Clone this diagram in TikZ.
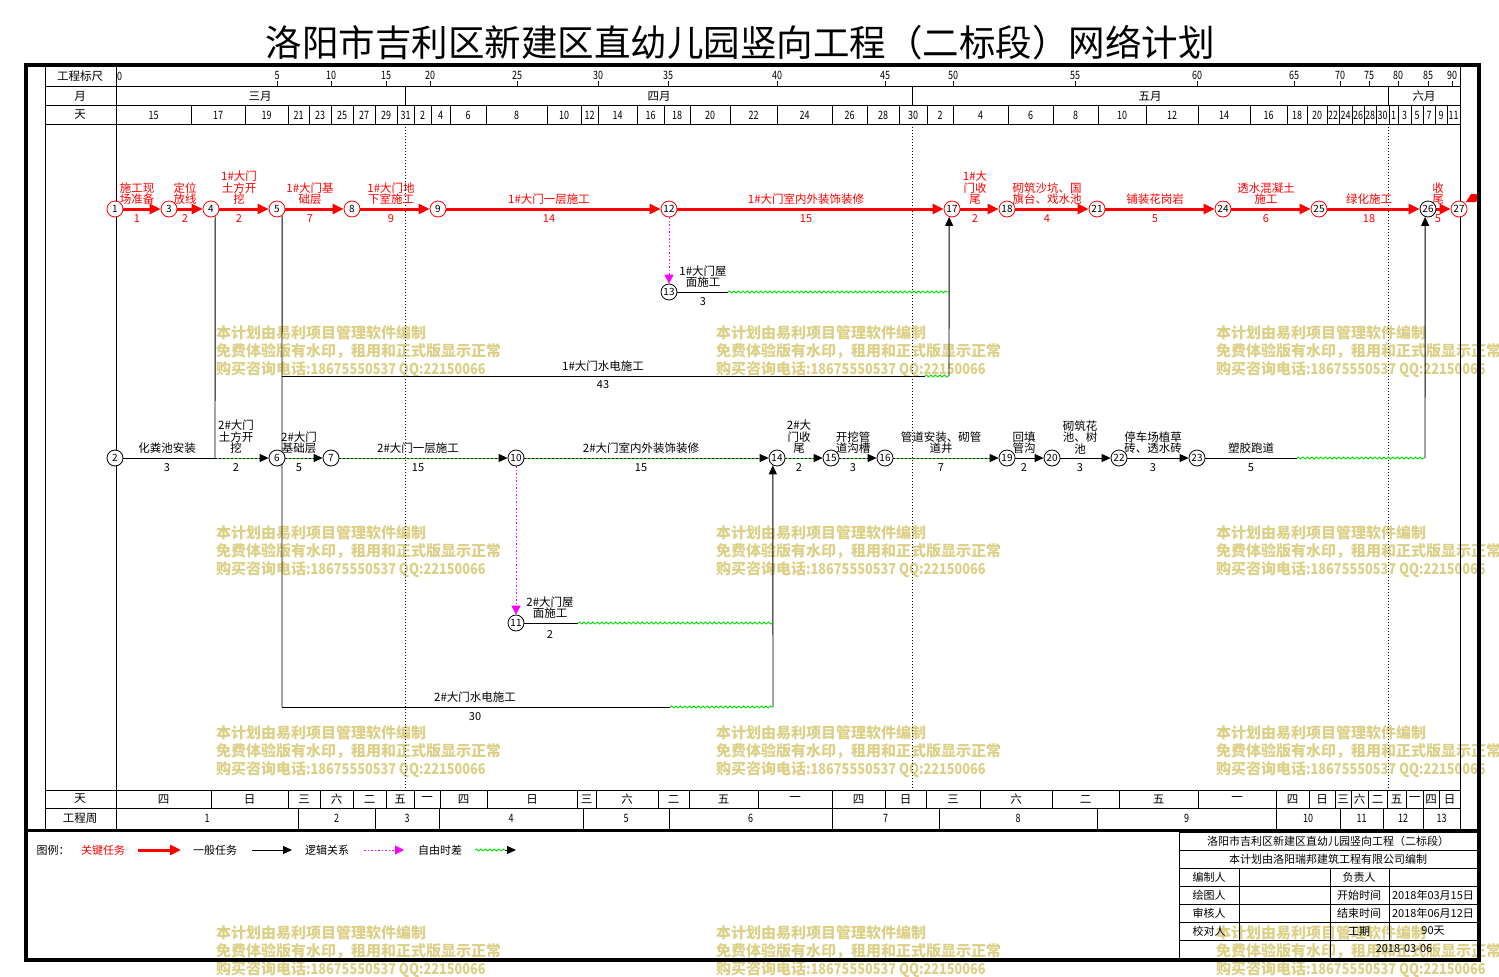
\documentclass[tikz,border=0pt]{standalone}
\usepackage{fontspec}
\setmainfont{Noto Sans CJK SC}
\usepackage{graphicx}
\usetikzlibrary{arrows.meta,decorations.pathmorphing}
\pgfdeclarelayer{wmlayer}
\pgfdeclarelayer{bglayer}
\pgfsetlayers{wmlayer,bglayer,main}
\definecolor{critc}{RGB}{255,0,0}
\definecolor{wmc}{RGB}{220,208,135}
\definecolor{slackc}{RGB}{0,225,0}
\definecolor{logc}{RGB}{255,0,255}
\newcommand\cnd[1]{\scalebox{0.78}[1]{#1}}
\newcommand\wnum[1]{\scalebox{0.85}[1]{#1}}
\tikzset{
  ev/.style={circle,draw=black,fill=white,minimum size=16pt,inner sep=0pt,line width=0.8pt,font=\fontsize{10}{10}\selectfont},
  evc/.style={ev,draw=critc},
  critln/.style={draw=critc,line width=3pt,-{Triangle[length=11pt,width=10pt]}},
  normln/.style={draw=black,line width=0.9pt,-{Triangle[length=9pt,width=8pt]}},
  plainln/.style={draw=black,line width=0.9pt},
  subln/.style={draw=black,line width=1pt,dash pattern=on 2pt off 2pt,-{Triangle[length=9pt,width=8pt]},preaction={draw=slackc,solid,-,line width=1pt,shorten >=6pt}},
  logln/.style={draw=logc,line width=0.9pt,dash pattern=on 1.5pt off 2pt,-{Triangle[length=9pt,width=9pt]}},
  slack/.style={draw=slackc,line width=0.9pt,decorate,decoration={snake,amplitude=1pt,segment length=4.5pt}},
  lab/.style={font=\fontsize{11.5}{11.5}\selectfont,align=center,inner sep=0pt,anchor=south},
  labc/.style={lab,text=critc},
  dur/.style={font=\fontsize{11}{11}\selectfont,inner sep=0pt},
  durc/.style={dur,text=critc},
  hd/.style={font=\fontsize{11.5}{11.5}\selectfont,inner sep=0pt},
  grid/.style={draw=black,line width=0.8pt},
  mdot/.style={draw=black,line width=0.7pt,dash pattern=on 1pt off 2pt},
  wmk/.style={text=wmc,font=\fontsize{15}{18}\selectfont\bfseries,align=left,anchor=west,inner sep=0pt},
  tb/.style={font=\fontsize{11}{11}\selectfont,inner sep=0pt},
}
\begin{document}
\begin{tikzpicture}[x=1pt,y=-1pt]
\useasboundingbox (0,0) rectangle (1499,977);

% ---------- watermark ----------
\begin{pgfonlayer}{wmlayer}
\foreach \wx in {216,716,1216}{
  \foreach \wy in {352,552,752,952}{
    \node[wmk] (wm\wx-\wy) at (\wx,\wy) {本计划由易利项目管理软件编制\\免费体验版有水印，租用和正式版显示正常\\购买咨询电话\wnum{:18675550537 QQ:22150066}};
  }
}
\end{pgfonlayer}

% ---------- title ----------
\node[font=\fontsize{36.5}{36.5}\selectfont,inner sep=0pt] (title) at (740,43) {洛阳市吉利区新建区直幼儿园竖向工程（二标段）网络计划};

% ---------- grid ----------
\begin{pgfonlayer}{bglayer}
\draw[grid] (45,66) -- (45,830);
\draw[grid] (116,66) -- (116,830);
\draw[grid] (1460,66) -- (1460,830);
\foreach \yy in {86,105,124,790,808}{ \draw[grid] (45,\yy) -- (1460,\yy); }
\foreach \xx in {405,912,1388}{
  \draw[grid] (\xx,86) -- (\xx,105);
  \draw[mdot] (\xx,124) -- (\xx,790);
}
\end{pgfonlayer}

\node[hd] (h1) at (80,76) {工程标尺};
\node[hd] (h2) at (80,96) {月};
\node[hd] (h3) at (80,115) {天};
\node[hd] (h4) at (80,799) {天};
\node[hd] (h5) at (80,818) {工程周};

% scale row
\node[hd,anchor=west] (sc0) at (117,76) {\cnd{0}};
\foreach \x/\t in {277/5,331/10,386/15,430/20,517/25,598/30,668/35,777/40,885/45,953/50,1075/55,1197/60,1294/65,1340/70,1369/75,1398/80,1428/85,1452/90}{
  \draw[line width=0.8pt] (\x,81) -- (\x,86);
  \node[hd] (sc\t) at (\x,75) {\cnd{\t}};
}

% month row
\node[hd] (mo3) at (260,96) {三月};
\node[hd] (mo4) at (659,96) {四月};
\node[hd] (mo5) at (1150,96) {五月};
\node[hd] (mo6) at (1424,96) {六月};

% day row
\foreach \a/\b/\t in {116/191/15,191/245/17,245/288/19,288/309/21,309/331/23,331/353/25,353/375/27,375/397/29,397/414/31,414/431/2,431/450/4,450/486/6,486/547/8,547/581/10,581/598/12,598/637/14,637/664/16,664/690/18,690/730/20,730/777/22,777/832/24,832/867/26,867/899/28,899/927/30,927/953/2,953/1008/4,1008/1053/6,1053/1098/8,1098/1146/10,1146/1198/12,1198/1250/14,1250/1287/16,1287/1307/18,1307/1327/20,1327/1339/22,1339/1352/24,1352/1364/26,1364/1376/28,1376/1389/30,1389/1398/1,1398/1411/3,1411/1423/5,1423/1435/7,1435/1447/9,1447/1460/11}{
  \draw[grid] (\b,105) -- (\b,124);
  \node[hd] (dy\a) at ({(\a+\b)/2},115) {\cnd{\t}};
}

% weekday row (bottom)
\foreach \a/\b/\t in {116/211/四,211/288/日,288/320/三,320/353/六,353/386/二,386/414/五,414/440/一,440/487/四,487/577/日,577/596/三,596/658/六,658/689/二,689/758/五,758/832/一,832/885/四,885/926/日,926/980/三,980/1052/六,1052/1119/二,1119/1198/五,1198/1276/一,1276/1309/四,1309/1335/日,1335/1351/三,1351/1368/六,1368/1387/二,1387/1406/五,1406/1423/一,1423/1439/四,1439/1460/日}{
  \draw[grid] (\b,790) -- (\b,808);
  \node[hd] (wd\a) at ({(\a+\b)/2},799) {\t};
}

% week row
\foreach \a/\b/\t in {116/298/1,298/375/2,375/439/3,439/583/4,583/669/5,669/832/6,832/939/7,939/1097/8,1097/1276/9,1276/1340/10,1340/1383/11,1383/1423/12,1423/1460/13}{
  \draw[grid] (\b,808) -- (\b,830);
  \node[hd] (wk\a) at ({(\a+\b)/2},818) {\cnd{\t}};
}

% ---------- events ----------
\node[evc] (n1) at (115,209) {1};
\node[evc] (n3) at (169,209) {3};
\node[evc] (n4) at (211,209) {4};
\node[evc] (n5) at (277,209) {5};
\node[evc] (n8) at (352,209) {8};
\node[evc] (n9) at (438,209) {9};
\node[evc] (n12) at (669,209) {12};
\node[evc] (n17) at (952,209) {17};
\node[evc] (n18) at (1007,209) {18};
\node[evc] (n21) at (1097,209) {21};
\node[evc] (n24) at (1223,209) {24};
\node[evc] (n25) at (1319,209) {25};
\node[ev]  (n26) at (1428,209) {26};
\node[evc] (n27) at (1459,209) {27};
\node[ev] (n13) at (669,292) {13};
\node[ev] (n2) at (115,458) {2};
\node[ev] (n6) at (277,458) {6};
\node[ev] (n7) at (331,458) {7};
\node[ev] (n10) at (516,458) {10};
\node[ev] (n14) at (777,458) {14};
\node[ev] (n15) at (831,458) {15};
\node[ev] (n16) at (885,458) {16};
\node[ev] (n19) at (1007,458) {19};
\node[ev] (n20) at (1052,458) {20};
\node[ev] (n22) at (1119,458) {22};
\node[ev] (n23) at (1197,458) {23};
\node[ev] (n11) at (516,623) {11};

\coordinate (c4d) at (215,458);
\coordinate (c5a) at (282,376);
\coordinate (c5b) at (282,707);
\coordinate (c5c) at (925,376);
\coordinate (c5d) at (949,376);
\coordinate (c5e) at (670,707);
\coordinate (c5f) at (773,707);
\coordinate (c13a) at (728,292);
\coordinate (c13b) at (949,292);
\coordinate (c11a) at (578,623);
\coordinate (c11b) at (773,623);
\coordinate (c23a) at (1297,458);
\coordinate (c23b) at (1425,458);

% ---------- connectors ----------
\begin{pgfonlayer}{bglayer}
\draw[critln] (n1) -- (n3);
\draw[critln] (n3) -- (n4);
\draw[critln] (n4) -- (n5);
\draw[critln] (n5) -- (n8);
\draw[critln] (n8) -- (n9);
\draw[critln] (n9) -- (n12);
\draw[critln] (n12) -- (n17);
\draw[critln] (n17) -- (n18);
\draw[critln] (n18) -- (n21);
\draw[critln] (n21) -- (n24);
\draw[critln] (n24) -- (n25);
\draw[critln] (n25) -- (n26);
\draw[critln] (n26) -- (n27);

\draw[logln] (n12) -- (n13);
\draw[logln] (n10) -- (n11);

\draw[plainln] (n13) -- (c13a);
\draw[slack] (c13a) -- (c13b);

\draw[plainln] (n4.-60) -- (c4d);
\draw[plainln] (n5.-52) -- (c5a) -- (c5b);
\draw[plainln] (c5a) -- (c5c);
\draw[slack] (c5c) -- (c5d);
\draw[normln] (c5d) -- (n17.-110);

\draw[plainln] (c5b) -- (c5e);
\draw[slack] (c5e) -- (c5f);
\draw[normln] (c5f) -- (n14.-120);

\draw[plainln] (n11) -- (c11a);
\draw[slack] (c11a) -- (c11b);

\draw[plainln] (n2) -- (c4d);
\draw[subln] (c4d) -- (n6);
\draw[subln] (n6) -- (n7);
\draw[subln] (n7) -- (n10);
\draw[subln] (n10) -- (n14);
\draw[subln] (n14) -- (n15);
\draw[subln] (n15) -- (n16);
\draw[subln] (n16) -- (n19);
\draw[normln] (n19) -- (n20);
\draw[normln] (n20) -- (n22);
\draw[normln] (n22) -- (n23);
\draw[plainln] (n23) -- (c23a);
\draw[slack] (c23a) -- (c23b);
\draw[normln] (c23b) -- (n26.-110);
\end{pgfonlayer}

\fill[critc] (1466,202) -- (1471,194) -- (1481,194) -- (1476,202) -- cycle;

% ---------- labels row 1 ----------
\node[labc] (L1) at (137,205) {施工现\\场准备};   \node[durc] (D1) at (137,219) {1};
\node[labc] (L3) at (185,205) {定位\\放线};       \node[durc] (D3) at (185,219) {2};
\node[labc] (L4) at (239,205) {1\#大门\\土方开\\挖}; \node[durc] (D4) at (239,219) {2};
\node[labc] (L5) at (310,205) {1\#大门基\\础层};   \node[durc] (D5) at (310,219) {7};
\node[labc] (L8) at (391,205) {1\#大门地\\下室施工}; \node[durc] (D8) at (391,219) {9};
\node[labc] (L9) at (549,205) {1\#大门一层施工};   \node[durc] (D9) at (549,219) {14};
\node[labc] (L12) at (806,205) {1\#大门室内外装饰装修}; \node[durc] (D12) at (806,219) {15};
\node[labc] (L17) at (975,205) {1\#大\\门收\\尾}; \node[durc] (D17) at (975,219) {2};
\node[labc] (L18) at (1047,205) {砌筑沙坑、国\\旗台、戏水池}; \node[durc] (D18) at (1047,219) {4};
\node[labc] (L21) at (1155,205) {铺装花岗岩};      \node[durc] (D21) at (1155,219) {5};
\node[labc] (L24) at (1266,205) {透水混凝土\\施工}; \node[durc] (D24) at (1266,219) {6};
\node[labc] (L25) at (1369,205) {绿化施工};        \node[durc] (D25) at (1369,219) {18};
\node[labc] (L26) at (1438,205) {收\\尾};          \node[durc] (D26) at (1438,219) {5};

% ---------- other labels ----------
\node[lab] (L13) at (703,288) {1\#大门屋\\面施工}; \node[dur] (D13) at (703,302) {3};
\node[lab] (L5a) at (603,372) {1\#大门水电施工};   \node[dur] (D5a) at (603,385) {43};
\node[lab] (L11) at (550,619) {2\#大门屋\\面施工}; \node[dur] (D11) at (550,634) {2};
\node[lab] (L5b) at (475,703) {2\#大门水电施工};   \node[dur] (D5b) at (475,717) {30};

% ---------- labels row 2 ----------
\node[lab] (M2) at (167,454) {化粪池安装};          \node[dur] (E2) at (167,468) {3};
\node[lab] (M4) at (236,454) {2\#大门\\土方开\\挖}; \node[dur] (E4) at (236,468) {2};
\node[lab] (M6) at (299,454) {2\#大门\\基础层};     \node[dur] (E6) at (299,468) {5};
\node[lab] (M7) at (418,454) {2\#大门一层施工};     \node[dur] (E7) at (418,468) {15};
\node[lab] (M10) at (641,454) {2\#大门室内外装饰装修}; \node[dur] (E10) at (641,468) {15};
\node[lab] (M14) at (799,454) {2\#大\\门收\\尾};   \node[dur] (E14) at (799,468) {2};
\node[lab] (M15) at (853,454) {开挖管\\道沟槽};     \node[dur] (E15) at (853,468) {3};
\node[lab] (M16) at (941,454) {管道安装、砌管\\道井}; \node[dur] (E16) at (941,468) {7};
\node[lab] (M19) at (1024,454) {回填\\管沟};       \node[dur] (E19) at (1024,468) {2};
\node[lab] (M20) at (1080,454) {砌筑花\\池、树\\池}; \node[dur] (E20) at (1080,468) {3};
\node[lab] (M22) at (1153,454) {停车场植草\\砖、透水砖}; \node[dur] (E22) at (1153,468) {3};
\node[lab] (M23) at (1251,454) {塑胶跑道};         \node[dur] (E23) at (1251,468) {5};

% ---------- legend ----------
\node[tb] (lg0) at (53,850) {图例：};
\node[tb,text=critc] (lgt1) at (103,850) {关键任务};
\coordinate (lgA1) at (138,850); \coordinate (lgA2) at (181,850);
\draw[critln] (lgA1) -- (lgA2);
\node[tb] (lgt2) at (215,850) {一般任务};
\coordinate (lgB1) at (252,850); \coordinate (lgB2) at (292,850);
\draw[normln] (lgB1) -- (lgB2);
\node[tb] (lgt3) at (327,850) {逻辑关系};
\coordinate (lgC1) at (364,850); \coordinate (lgC2) at (404,850);
\draw[logln] (lgC1) -- (lgC2);
\node[tb] (lgt4) at (440,850) {自由时差};
\coordinate (lgD1) at (475,850); \coordinate (lgD2) at (505,850); \coordinate (lgD3) at (516,850);
\draw[slack] (lgD1) -- (lgD2);
\draw[normln] (lgD2) -- (lgD3);

% ---------- title block ----------
\draw[grid] (1179,832) rectangle (1478,958);
\foreach \yy in {850,868,886,904,922,940}{ \draw[grid] (1179,\yy) -- (1478,\yy); }
\draw[grid] (1239,868) -- (1239,940);
\draw[grid] (1330,868) -- (1330,958);
\draw[grid] (1389,868) -- (1389,940);
\node[tb] (tb1) at (1328,841) {洛阳市吉利区新建区直幼儿园竖向工程（二标段）};
\node[tb] (tb2) at (1328,859) {本计划由洛阳瑞邦建筑工程有限公司编制};
\node[tb] (tb3) at (1209,877) {编制人};
\node[tb] (tb4) at (1359,877) {负责人};
\node[tb] (tb5) at (1209,895) {绘图人};
\node[tb] (tb6) at (1359,895) {开始时间};
\node[tb] (tb7) at (1433,895) {2018年03月15日};
\node[tb] (tb8) at (1209,913) {审核人};
\node[tb] (tb9) at (1359,913) {结束时间};
\node[tb] (tb10) at (1433,913) {2018年06月12日};
\node[tb] (tb11) at (1209,931) {校对人};
\node[tb] (tb12) at (1359,931) {工期};
\node[tb] (tb13) at (1433,931) {90天};
\node[tb] (tb14) at (1404,949) {2018-03-06};

% ---------- outer frame ----------
\draw[line width=3.5pt] (26,65) rectangle (1479,960);
\draw[line width=3pt] (26,830) -- (1479,830);
\end{tikzpicture}
\end{document}
